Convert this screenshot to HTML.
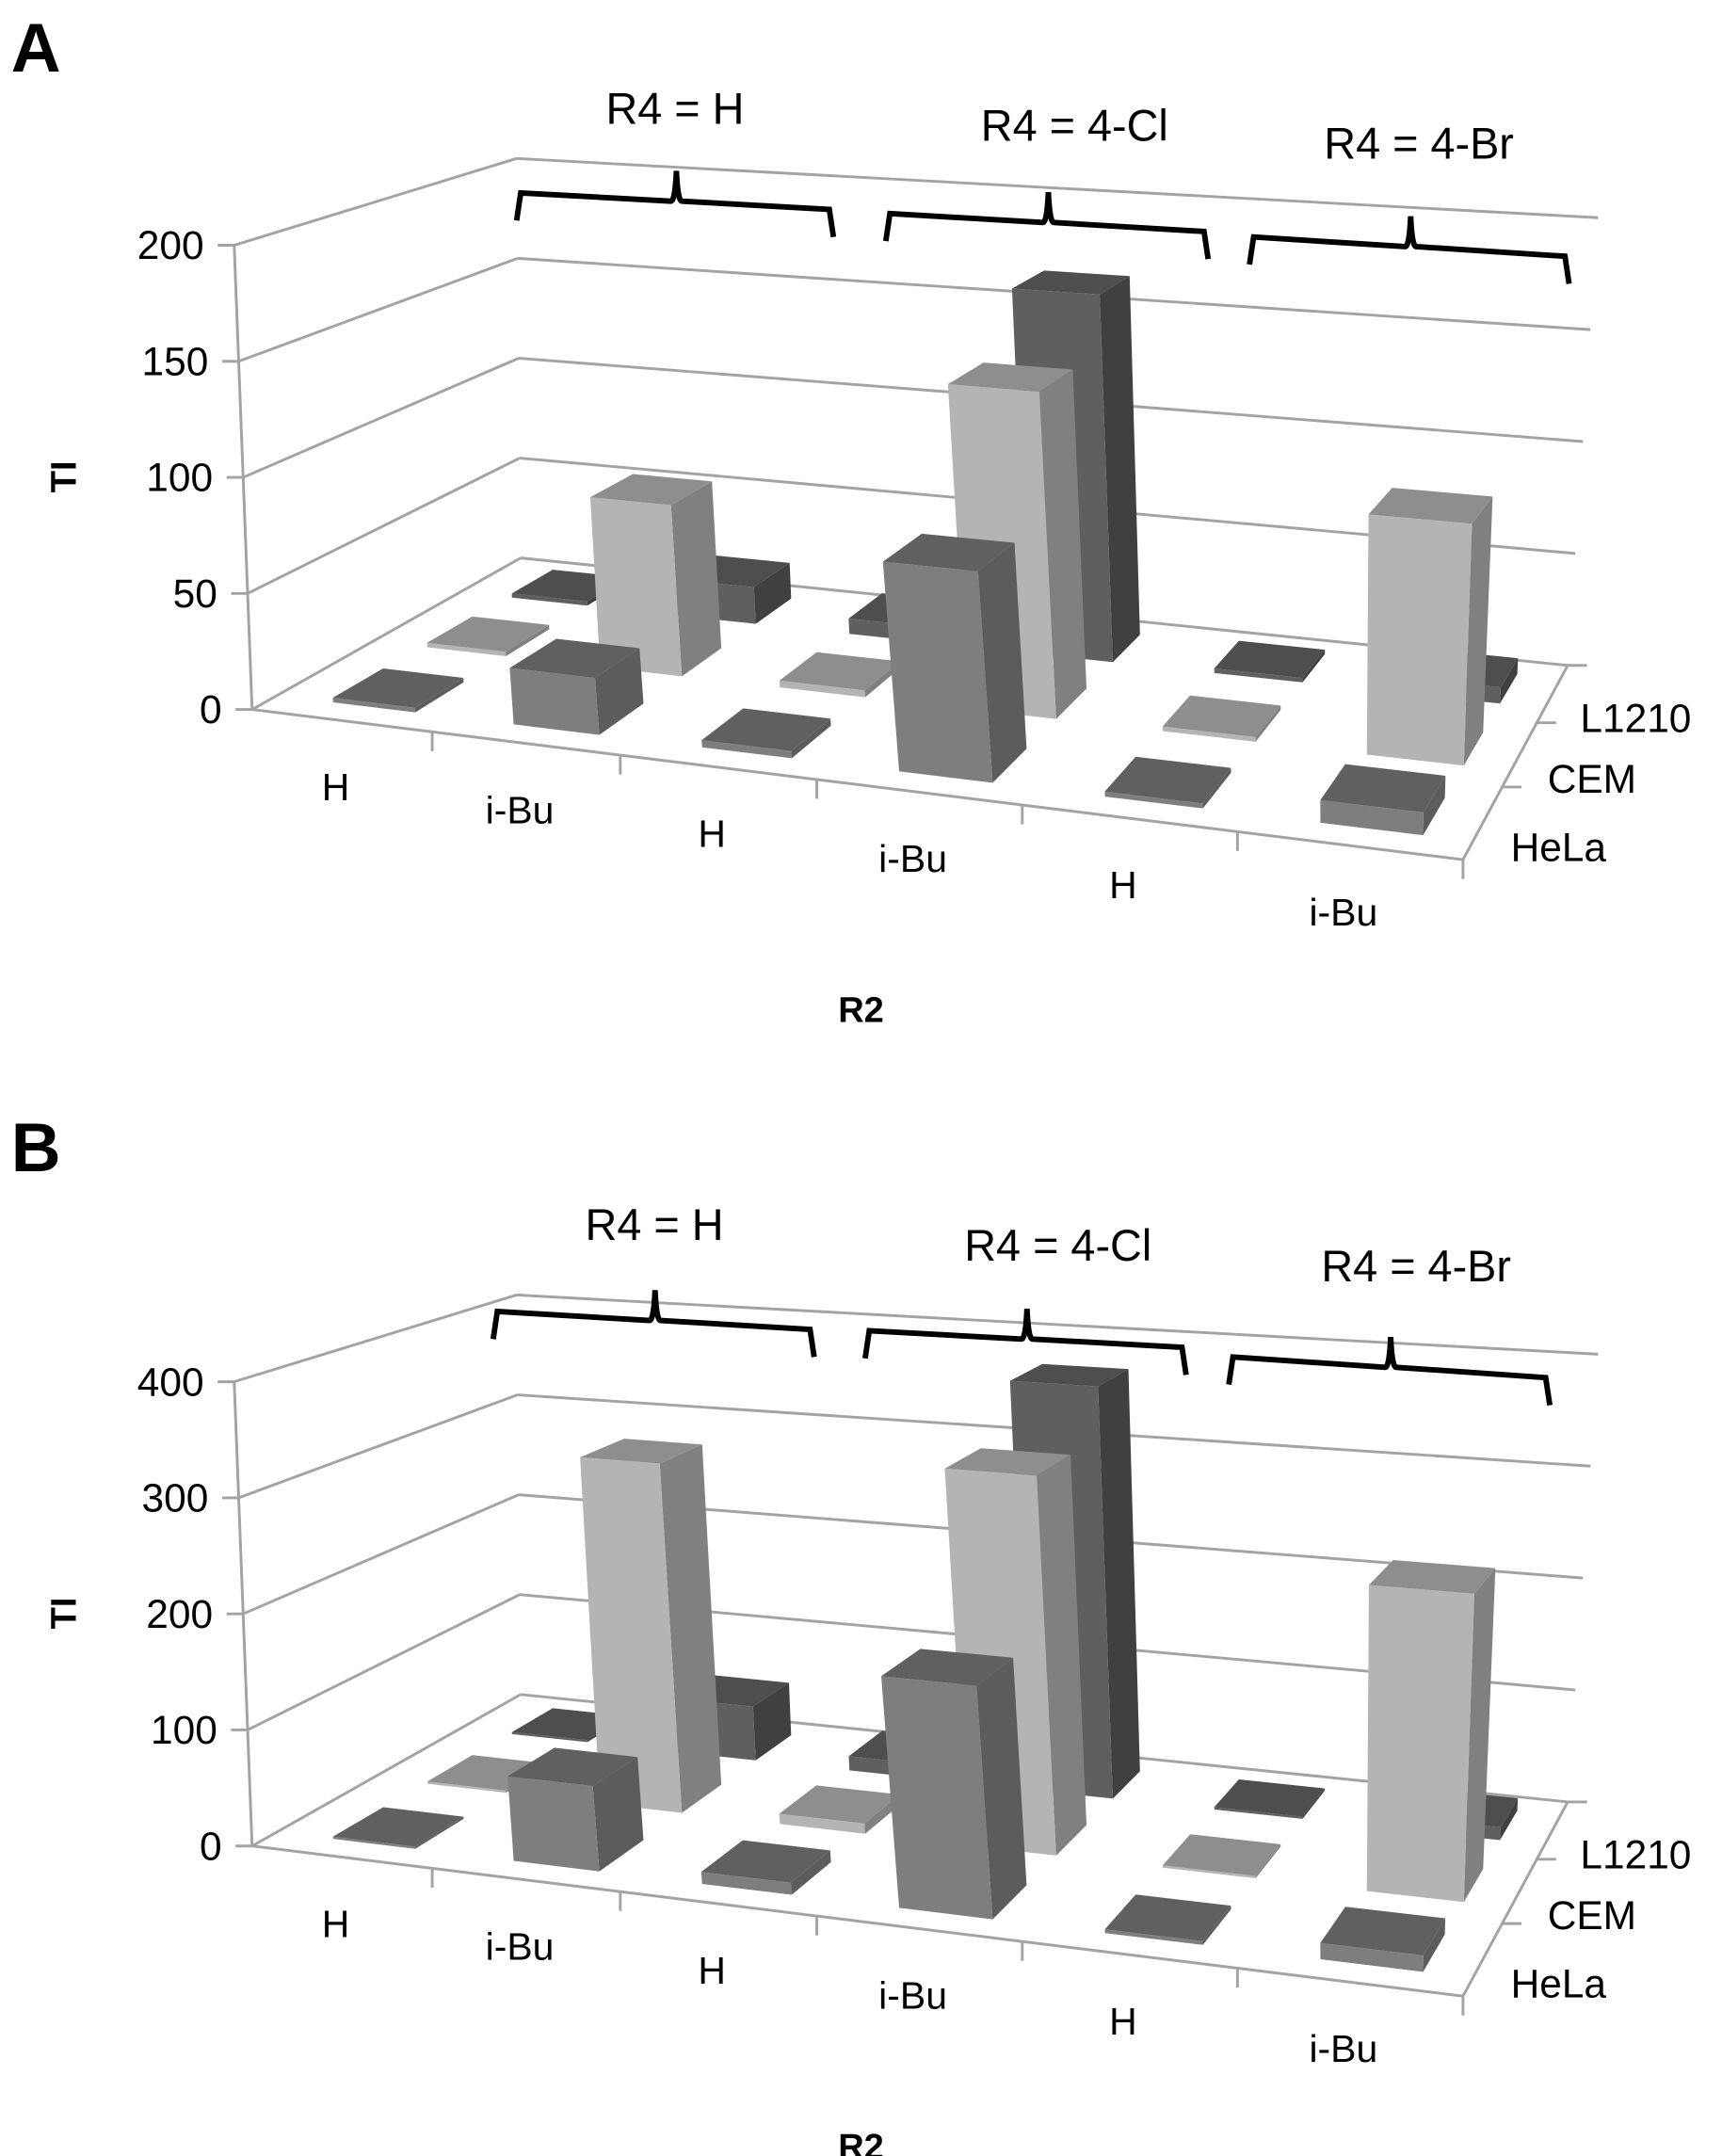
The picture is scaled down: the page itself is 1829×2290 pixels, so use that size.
<!DOCTYPE html>
<html><head><meta charset="utf-8"><style>
html,body{margin:0;padding:0;background:#fff;}
svg{display:block;}
text{font-family:"Liberation Sans",sans-serif;fill:#000;}
</style></head>
<body>
<svg id="fig" width="1829" height="2290" viewBox="0 0 1250 1565" xmlns="http://www.w3.org/2000/svg">
<text x="8" y="52" font-size="50" font-weight="bold">A</text>
<text x="8" y="850" font-size="50" font-weight="bold">B</text>
<g id="chartA"></g>
<g id="chartB"></g>
</svg>
<script>
const categories = ["H","i-Bu","H","i-Bu","H","i-Bu"];
const groupLabels = ["R4 = H","R4 = 4-Cl","R4 = 4-Br"];
const seriesNames = ["HeLa","CEM","L1210"];
const ticksA = [0,50,100,150,200];
const ticksB = [0,100,200,300,400];
const helaA = [2,24,3,86,2,9];
const cemA = [2,76,3,140,2,100];
const l1210A = [2,17,7,165,2,7];
const helaB = [2,72,10,190,3,13];
const cemB = [2,310,9,325,2,255];
const l1210B = [2,50,13,370,2,11];

const NS="http://www.w3.org/2000/svg";
const front=["#7e7e7e","#b4b4b4","#5f5f5f"];
const side=["#5c5c5c","#808080","#404040"];
const topc=["#606060","#8e8e8e","#4e4e4e"];

function homog(q){
  const [x0,y0]=q[0],[x1,y1]=q[1],[x2,y2]=q[2],[x3,y3]=q[3];
  const sx=x0-x1+x2-x3, sy=y0-y1+y2-y3;
  const dx1=x1-x2,dx2=x3-x2,dy1=y1-y2,dy2=y3-y2;
  const den=dx1*dy2-dx2*dy1;
  const g=(sx*dy2-dx2*sy)/den, h=(dx1*sy-sx*dy1)/den;
  const a=x1-x0+g*x1,b=x3-x0+h*x3,c=x0,d=y1-y0+g*y1,e=y3-y0+h*y3,f=y0;
  return (u,w)=>{const z=g*u+h*w+1;return [(a*u+b*w+c)/z,(d*u+e*w+f)/z];};
}
function mk(tag,attrs,parent){const el=document.createElementNS(NS,tag);for(const k in attrs)el.setAttribute(k,attrs[k]);parent.appendChild(el);return el;}

function drawChart(g,dy,ticks,series,brackets,groupPos,labelPos){
  const maxV=ticks[ticks.length-1];
  const floor=homog([[183,515+dy],[1062,624+dy],[1138,483+dy],[378,405+dy]]);
  const top=homog([[170,178+dy],[1074,250+dy],[1160,158+dy],[375,115+dy]]);
  const P=(u,w,v)=>{const a=floor(u,w),b=top(u,w);return [a[0]+(b[0]-a[0])*v,a[1]+(b[1]-a[1])*v];};
  const pts=a=>a.map(p=>p[0].toFixed(1)+","+p[1].toFixed(1)).join(" ");
  const line=(a,b,name)=>{const l=mk("line",{x1:a[0],y1:a[1],x2:b[0],y2:b[1],stroke:"#a3a3a3","stroke-width":2},g);
    
    };
  ticks.forEach((t,k)=>{
    const v=t/maxV;
    line(P(0,0,v),P(0,1,v),"left-wall-gridline");
    line(P(0,1,v),P(1,1,v),"back-wall-gridline");
    const a=P(0,0,v);
    line([a[0]-12,a[1]],a,"y-tick");
    const tx=mk("text",{x:a[0]-22,y:a[1]+10,"font-size":29,"text-anchor":"end"},g);
    tx.textContent=t;
    
    
  });
  line(P(0,0,0),P(0,0,1),"y-axis");
  line(P(0,0,0),P(1,0,0),"x-axis");
  line(P(1,0,0),P(1,1,0),"depth-axis");
  for(let i=1;i<=categories.length;i++){const a=P(i/categories.length,0,0);line(a,[a[0],a[1]+14],"x-tick");}
  for(let s=1;s<=3;s++){const a=P(1,s/3,0);line(a,[a[0]+14,a[1]],"depth-tick");}
  for(let s=2;s>=0;s--){
    for(let i=0;i<categories.length;i++){
      const v=Math.max(series[s][i]/maxV,0.004);
      const u0=(i+0.32)/6,u1=(i+0.78)/6,w0=(s+0.24)/3,w1=(s+0.76)/3;
      const bar=mk("g",{},g);
      
      
      mk("polygon",{points:pts([P(u1,w0,0),P(u1,w1,0),P(u1,w1,v),P(u1,w0,v)]),fill:side[s]},bar);
      mk("polygon",{points:pts([P(u0,w0,0),P(u1,w0,0),P(u1,w0,v),P(u0,w0,v)]),fill:front[s]},bar);
      mk("polygon",{points:pts([P(u0,w0,v),P(u1,w0,v),P(u1,w1,v),P(u0,w1,v)]),fill:topc[s]},bar);
    }
  }
  categories.forEach((c,i)=>{
    const a=P((i+0.5)/6,0,0);
    const t=mk("text",{x:a[0]+labelPos[0],y:a[1]+labelPos[1],"font-size":28,"text-anchor":"middle"},g);
    t.textContent=c;
    
    
  });
  seriesNames.forEach((n,s)=>{
    const a=P(1,(s+0.5)/3,0);
    const t=mk("text",{x:a[0]+20,y:a[1]+28,"font-size":29},g);
    t.textContent=n;
    
    
  });
  brackets.forEach((b,k)=>{
    const [x0,y0,x1,y1]=b;const xm=(x0+x1)/2, ym=(y0+y1)/2;
    const p=mk("path",{d:`M${x0},${y0+20} L${x0+3},${y0} L${xm-3},${ym} Q${xm},${ym} ${xm+1},${ym-22} Q${xm+2},${ym} ${xm+5},${ym} L${x1-3},${y1} L${x1},${y1+20}`,fill:"none",stroke:"#000","stroke-width":4},g);
    
    
    const t=mk("text",{x:groupPos[k][0],y:groupPos[k][1],"font-size":32,"text-anchor":"middle"},g);
    t.textContent=groupLabels[k];
    
    
  });
  const r2=mk("text",{x:625,y:742+dy,"font-size":26,"font-weight":"bold","text-anchor":"middle"},g);
  r2.textContent="R2";
  
  
  const ti=mk("text",{x:0,y:0,"font-size":26,"font-weight":"bold","text-anchor":"middle",transform:`translate(55,${346+dy}) rotate(-90)`},g);
  ti.textContent="TI";
  
  
}
drawChart(document.getElementById("chartA"),0,ticksA,[helaA,cemA,l1210A],
  [[375,140,605,152],[643,155,877,168],[907,172,1139,186]],
  [[490,90],[780,102],[1030,115]],[-4,58]);
drawChart(document.getElementById("chartB"),825,ticksB,[helaB,cemB,l1210B],
  [[358,952,591,965],[628,966,861,978],[892,985,1125,1000]],
  [[475,900],[768,915],[1028,930]],[-4,58]);
</script>
</body></html>
